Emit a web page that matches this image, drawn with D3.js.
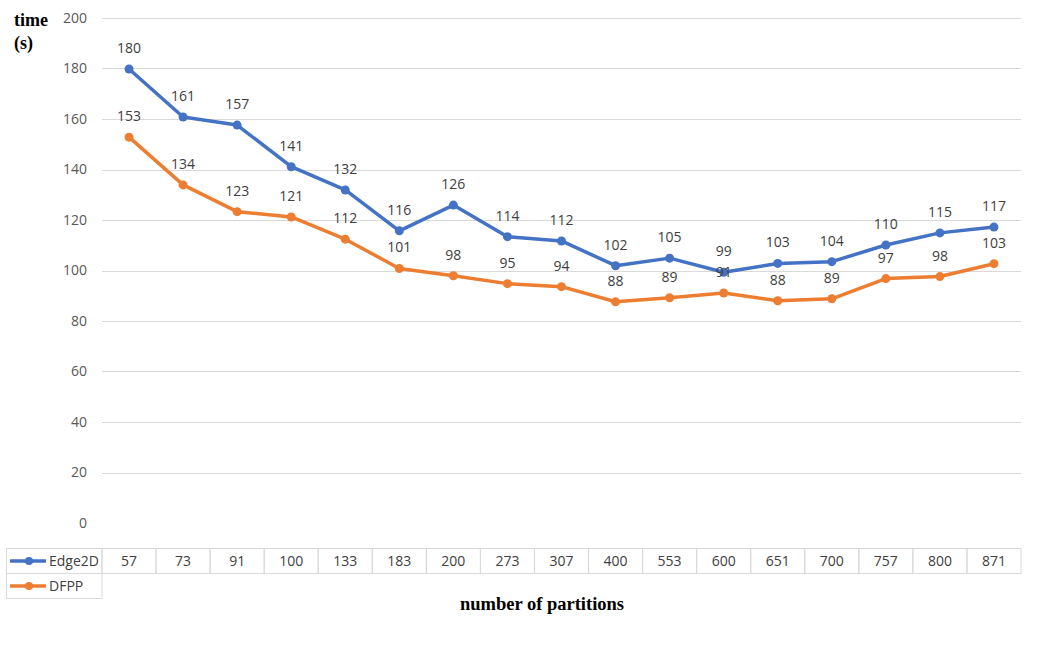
<!DOCTYPE html>
<html><head><meta charset="utf-8">
<script src="https://cdn.jsdelivr.net/npm/d3@7/dist/d3.min.js"></script>
<style>body{margin:0;background:#fff;}svg{display:block;}</style>
</head><body>
<svg id="c" width="1038" height="648"></svg>
<script>
const categories = ["57","73","91","100","133","183","200","273","307","400","553","600","651","700","757","800","871"];
const edge2d = [179.8,160.8,157.6,141.1,131.9,115.7,125.9,113.4,111.7,101.9,104.9,99.3,102.8,103.5,110.1,114.9,117.2];
const dfpp = [152.8,133.9,123.3,121.2,112.4,100.8,97.9,94.8,93.6,87.6,89.2,91.1,88.0,88.8,96.8,97.6,102.7];
const edge2dLabels = ["180","161","157","141","132","116","126","114","112","102","105","99","103","104","110","115","117"];
const dfppLabels = ["153","134","123","121","112","101","98","95","94","88","89","91","88","89","97","98","103"];
const yTicks = [0,20,40,60,80,100,120,140,160,180,200];
const seriesNames = ["Edge2D","DFPP"];
const colors = ["#4472C4","#ED7D31"];

(function(){
const svg = d3.select("#c");
const pL = 102, pR = 1021, pT = 18, pB = 523;
const x = d3.scaleBand().domain(categories).range([pL, pR]);
const y = d3.scaleLinear().domain([0,200]).range([pB, pT]);
const font = "'Open Sans', 'Noto Sans', sans-serif";
const fs = 14;
const serif = "'Liberation Serif','Times New Roman',serif";

svg.append("g").selectAll("line").data(yTicks.filter(d=>d>0)).join("line")
  .attr("x1", pL).attr("x2", pR)
  .attr("y1", d=>Math.round(y(d))+0.5).attr("y2", d=>Math.round(y(d))+0.5)
  .attr("stroke", "#d9d9d9").attr("stroke-width", 1);

svg.append("g").selectAll("text").data(yTicks).join("text")
  .attr("x", 87).attr("y", d=>y(d)).attr("dy","0.35em")
  .attr("text-anchor","end").attr("font-family", font).attr("font-size", fs)
  .attr("fill","#595959").text(d=>d);

const yt = svg.append("text").attr("font-family", serif)
  .attr("font-weight","bold").attr("font-size",18).attr("fill","#000");
yt.append("tspan").attr("x",14).attr("y",26).text("time");
yt.append("tspan").attr("x",14).attr("y",49).text("(s)");

svg.append("text").attr("x",542).attr("y",610).attr("text-anchor","middle")
  .attr("font-family", serif)
  .attr("font-weight","bold").attr("font-size",18.5).attr("fill","#000")
  .text("number of partitions");

const cx = d => x(d) + x.bandwidth()/2;
const line = d3.line().x(d=>cx(d.c)).y(d=>y(d.v));
const sets = [ [edge2d, edge2dLabels], [dfpp, dfppLabels] ];
sets.forEach(([vals, labs], i) => {
  const data = categories.map((c,j)=>({c, v: vals[j], l: labs[j]}));
  svg.append("path").datum(data).attr("d", line).attr("fill","none")
    .attr("stroke", colors[i]).attr("stroke-width", 3.5).attr("stroke-linejoin","round");
  svg.append("g").selectAll("circle").data(data).join("circle")
    .attr("cx", d=>cx(d.c)).attr("cy", d=>y(d.v)).attr("r", 4.5).attr("fill", colors[i]);
});
sets.forEach(([vals, labs], i) => {
  const data = categories.map((c,j)=>({c, v: vals[j], l: labs[j]}));
  svg.append("g").selectAll("text").data(data).join("text")
    .attr("x", d=>cx(d.c)).attr("y", d=>y(d.v) - 16)
    .attr("text-anchor","middle").attr("font-family", font).attr("font-size", fs)
    .attr("fill","#404040").text(d=>d.l);
});

const tTop = 548.5, rowH = 25, legL = 6.5;
const tg = svg.append("g");
const bc = "#d9d9d9";
tg.selectAll("rect.cell").data(categories).join("rect").attr("class","cell")
  .attr("x", d=>x(d)).attr("y", tTop).attr("width", x.bandwidth()).attr("height", rowH)
  .attr("fill","none").attr("stroke", bc).attr("stroke-width",1);
tg.selectAll("text.cat").data(categories).join("text").attr("class","cat")
  .attr("x", d=>cx(d)).attr("y", tTop+rowH/2).attr("dy","0.35em").attr("text-anchor","middle")
  .attr("font-family", font).attr("font-size", fs).attr("fill","#404040").text(d=>d);
seriesNames.forEach((name,i) => {
  const yy = tTop + i*rowH;
  tg.append("rect").attr("x", legL).attr("y", yy).attr("width", pL-legL).attr("height", rowH)
    .attr("fill","none").attr("stroke", bc).attr("stroke-width",1);
  tg.append("line").attr("x1", 10).attr("x2", 46).attr("y1", yy+rowH/2).attr("y2", yy+rowH/2)
    .attr("stroke", colors[i]).attr("stroke-width", 3.5);
  tg.append("circle").attr("cx", 29).attr("cy", yy+rowH/2).attr("r", 4).attr("fill", colors[i]);
  tg.append("text").attr("x", 49).attr("y", yy+rowH/2).attr("dy","0.35em")
    .attr("font-family", font).attr("font-size", fs).attr("fill","#404040").text(name);
});
})();
</script>
</body></html>
